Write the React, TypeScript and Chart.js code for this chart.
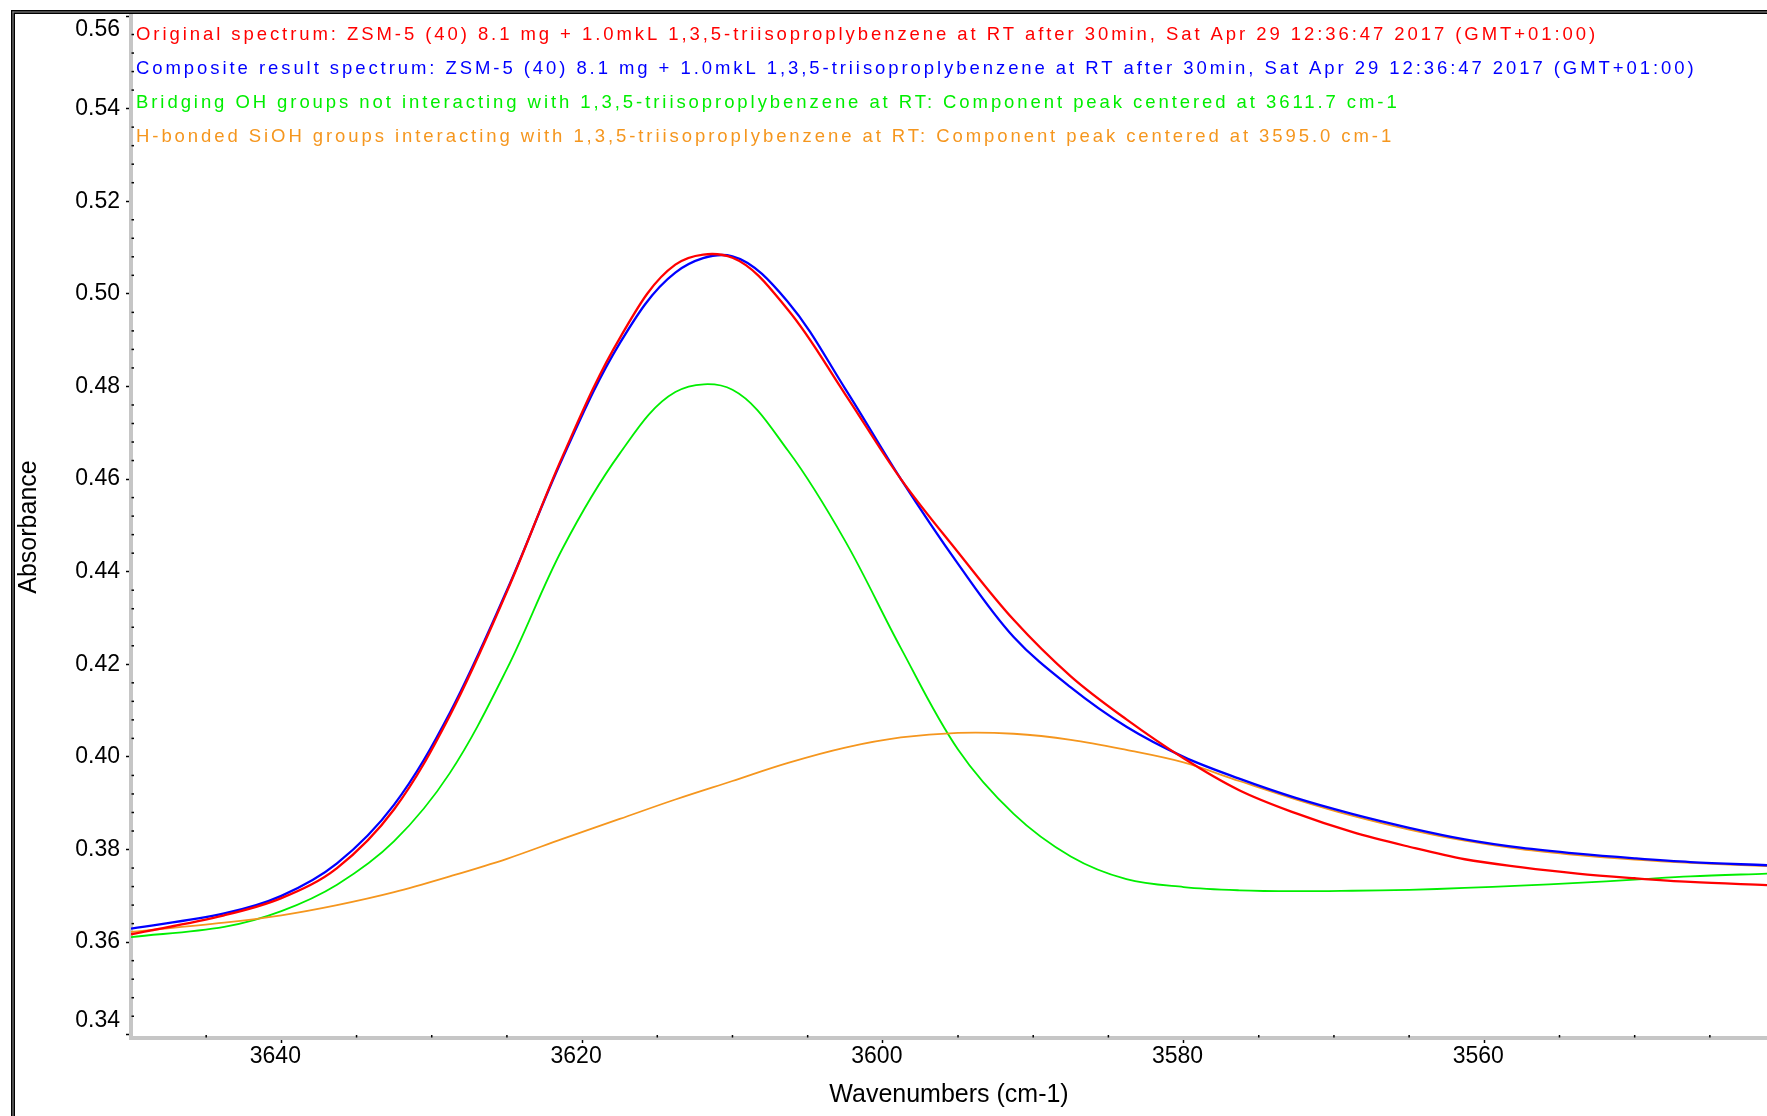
import React, { useEffect, useRef } from 'react';
import { Chart, registerables } from 'chart.js';

Chart.register(...registerables);

// ---- data ----
const wavenumbers = [
  3650, 3643.8, 3640, 3636.3, 3632.5, 3628.8, 3625, 3621.3, 3617.5, 3613.8,
  3610, 3606.3, 3602.5, 3598.8, 3595, 3591.3, 3587.5, 3583.8, 3580,
  3576.3, 3572.6, 3568.8, 3565, 3561.3, 3557.6, 3553.8, 3550, 3546.3, 3541.2,
];

const originalSpectrum = [
  0.3617, 0.3658, 0.3695, 0.3760, 0.3887, 0.4089, 0.4357, 0.4649, 0.4904, 0.5063,
  0.5078, 0.4965, 0.4783, 0.4600, 0.4442, 0.4296, 0.4174, 0.4081, 0.3997,
  0.3928, 0.3879, 0.3838, 0.3806, 0.3779, 0.3762, 0.3748, 0.3738, 0.3730, 0.3723,
];

const compositeSpectrum = [
  0.3629, 0.3662, 0.3700, 0.3770, 0.3897, 0.4095, 0.4360, 0.4645, 0.4893, 0.5046,
  0.5081, 0.4982, 0.4795, 0.4600, 0.4417, 0.4259, 0.4150, 0.4065, 0.4000,
  0.3953, 0.3912, 0.3877, 0.3847, 0.3822, 0.3804, 0.3791, 0.3781, 0.3773, 0.3766,
];

const bridgingOH = [
  0.3611, 0.3633, 0.3667, 0.3724, 0.3818, 0.3965, 0.4190, 0.4450, 0.4655, 0.4788,
  0.4793, 0.4661, 0.4466, 0.4235, 0.4016, 0.3877, 0.3785, 0.3736, 0.3719,
  0.3712, 0.3710, 0.3711, 0.3713, 0.3717, 0.3722, 0.3728, 0.3735, 0.3742, 0.3748,
];

const hBondedSiOH = [
  0.3622, 0.3642, 0.3658, 0.3680, 0.3708, 0.3742, 0.3780, 0.3823, 0.3866, 0.3908,
  0.3948, 0.3987, 0.4020, 0.4042, 0.4052, 0.4050, 0.4037, 0.4015, 0.3988,
  0.3948, 0.3909, 0.3873, 0.3843, 0.3819, 0.3801, 0.3788, 0.3778, 0.3771, 0.3764,
];

const seriesLabels = [
  'Original spectrum: ZSM-5 (40) 8.1 mg + 1.0mkL 1,3,5-triisoproplybenzene at RT after 30min, Sat Apr 29 12:36:47 2017 (GMT+01:00)',
  'Composite result spectrum: ZSM-5 (40) 8.1 mg + 1.0mkL 1,3,5-triisoproplybenzene at RT after 30min, Sat Apr 29 12:36:47 2017 (GMT+01:00)',
  'Bridging OH groups not interacting with 1,3,5-triisoproplybenzene at RT: Component peak centered at 3611.7 cm-1',
  'H-bonded SiOH groups interacting with 1,3,5-triisoproplybenzene at RT: Component peak centered at 3595.0 cm-1',
];

const xTicks = [3640, 3620, 3600, 3580, 3560];
const yTicks = [0.34, 0.36, 0.38, 0.40, 0.42, 0.44, 0.46, 0.48, 0.50, 0.52, 0.54, 0.56];

const xTitle = 'Wavenumbers (cm-1)';
const yTitle = 'Absorbance';

// ---- styling ----
const FONT = '"Liberation Sans", Arial, sans-serif';
const AXIS_GRAY = '#c6c6c6';
const LEGEND_LINE1_WIDTH = 1462;

const toPoints = (ys: number[]) => wavenumbers.map((x, i) => ({ x, y: ys[i] }));

const framePlugin = {
  id: 'frame',
  beforeDraw(chart: any) {
    const { ctx, width, height } = chart;
    ctx.save();
    ctx.fillStyle = '#ffffff';
    ctx.fillRect(0, 0, width, height);
    ctx.fillStyle = '#000000';
    ctx.fillRect(11, 10, 4, height - 10);
    ctx.fillRect(11, 10, width - 11, 4);
    ctx.fillStyle = '#9a9a9a';
    ctx.fillRect(12.5, 11.5, 1, height - 11.5);
    ctx.fillRect(12.5, 11.5, width - 12.5, 1);
    ctx.restore();
  },
};

const minorTicksPlugin = {
  id: 'minorTicks',
  afterDraw(chart: any) {
    const { ctx, chartArea, scales } = chart;
    const ys = scales.y;
    const xs = scales.x;
    ctx.save();
    ctx.fillStyle = '#000000';
    for (let k = 0; k <= 55; k++) {
      if (k % 5 === 0) continue;
      const v = 0.34 + k * 0.004;
      const py = ys.getPixelForValue(v);
      ctx.fillRect(chartArea.left + 0.5, py - 0.75, 2.5, 1.5);
    }
    for (let w = 3645; w > 3541; w -= 5) {
      if (w % 20 === 0) continue;
      const px = xs.getPixelForValue(w);
      ctx.fillRect(px - 0.75, chartArea.bottom - 3, 1.5, 2.5);
    }
    ctx.restore();
  },
};

const textLegendPlugin = {
  id: 'textLegend',
  afterDraw(chart: any) {
    const { ctx } = chart;
    const datasets = chart.data.datasets;
    ctx.save();
    ctx.font = `18.5px ${FONT}`;
    ctx.textBaseline = 'alphabetic';
    ctx.textAlign = 'left';
    const first = datasets[0].label as string;
    const baseW = ctx.measureText(first).width;
    const spacing = (LEGEND_LINE1_WIDTH - baseW) / first.length;
    let useScale = true;
    if ('letterSpacing' in ctx) {
      (ctx as any).letterSpacing = `${spacing}px`;
      const w2 = ctx.measureText(first).width;
      if (Math.abs(w2 - baseW) > 1) useScale = false;
    }
    datasets.forEach((ds: any, i: number) => {
      ctx.fillStyle = ds.borderColor;
      const y = 39.5 + i * 34;
      if (useScale) {
        ctx.save();
        const sx = LEGEND_LINE1_WIDTH / baseW;
        ctx.translate(136, y);
        ctx.scale(sx, 1);
        ctx.fillText(ds.label, 0, 0);
        ctx.restore();
      } else {
        ctx.fillText(ds.label, 136, y);
      }
    });
    ctx.restore();
  },
};

export default function App() {
  const canvasRef = useRef<HTMLCanvasElement | null>(null);

  useEffect(() => {
    const canvas = canvasRef.current;
    if (!canvas) return;
    Chart.defaults.font.family = FONT;
    const lineCommon = { pointRadius: 0, tension: 0.35 };
    const chart = new Chart(canvas, {
      type: 'line',
      data: {
        datasets: [
          {
            label: seriesLabels[0],
            data: toPoints(originalSpectrum),
            borderColor: '#ff0000',
            borderWidth: 2.3,
            order: 0,
            ...lineCommon,
          },
          {
            label: seriesLabels[1],
            data: toPoints(compositeSpectrum),
            borderColor: '#0000ff',
            borderWidth: 2.3,
            order: 1,
            ...lineCommon,
          },
          {
            label: seriesLabels[2],
            data: toPoints(bridgingOH),
            borderColor: '#00ee00',
            borderWidth: 1.8,
            order: 3,
            ...lineCommon,
          },
          {
            label: seriesLabels[3],
            data: toPoints(hBondedSiOH),
            borderColor: '#f5961e',
            borderWidth: 1.8,
            order: 2,
            ...lineCommon,
          },
        ],
      },
      options: {
        responsive: false,
        animation: false,
        devicePixelRatio: 1,
        layout: { padding: { top: 16, left: 0, right: 0, bottom: 0 } },
        plugins: {
          legend: { display: false },
          tooltip: { enabled: false },
          title: { display: false },
        },
        scales: {
          x: {
            type: 'linear',
            reverse: true,
            min: 3541.2,
            max: 3650,
            offset: false,
            border: { display: true, color: AXIS_GRAY, width: 4 },
            grid: {
              drawOnChartArea: false,
              drawTicks: true,
              tickLength: 5,
              tickColor: '#000000',
              tickWidth: 1.5,
            },
            ticks: {
              autoSkip: false,
              maxRotation: 0,
              padding: 0,
              labelOffset: -6,
              color: '#000000',
              font: { size: 23, family: FONT },
              callback: (value: any) => String(value),
            },
            afterBuildTicks: (scale: any) => {
              scale.ticks = xTicks.map((v) => ({ value: v }));
            },
            afterFit: (scale: any) => {
              scale.height = 78;
              scale.paddingLeft = 0;
              scale.paddingRight = 0;
            },
            title: {
              display: true,
              text: xTitle,
              color: '#000000',
              font: { size: 25, family: FONT },
              padding: { top: 0, bottom: 6 },
            },
          },
          y: {
            type: 'linear',
            min: 0.3393,
            max: 0.56,
            border: { display: true, color: AXIS_GRAY, width: 4 },
            grid: {
              drawOnChartArea: false,
              drawTicks: true,
              tickLength: 5,
              tickColor: '#000000',
              tickWidth: 1.5,
            },
            ticks: {
              autoSkip: false,
              padding: 6,
              color: '#000000',
              font: { size: 23, family: FONT },
              callback: (value: any, index: number, ticks: any[]) => {
                const s = Number(value).toFixed(2);
                if (index === 0) return [s, ''];
                if (index === ticks.length - 1) return ['', s];
                return s;
              },
            },
            afterBuildTicks: (scale: any) => {
              scale.ticks = yTicks.map((v) => ({ value: v }));
            },
            afterFit: (scale: any) => {
              scale.width = 131;
              scale.paddingTop = 0;
              scale.paddingBottom = 0;
            },
            title: {
              display: true,
              text: yTitle,
              color: '#000000',
              font: { size: 25, family: FONT },
              padding: { top: 14, bottom: 0 },
            },
          },
        },
      } as any,
      plugins: [framePlugin, minorTicksPlugin, textLegendPlugin],
    });
    return () => chart.destroy();
  }, []);

  return (
    <canvas
      ref={canvasRef}
      width={1767}
      height={1116}
      style={{ position: 'fixed', left: 0, top: 0, width: 1767, height: 1116 }}
    />
  );
}
